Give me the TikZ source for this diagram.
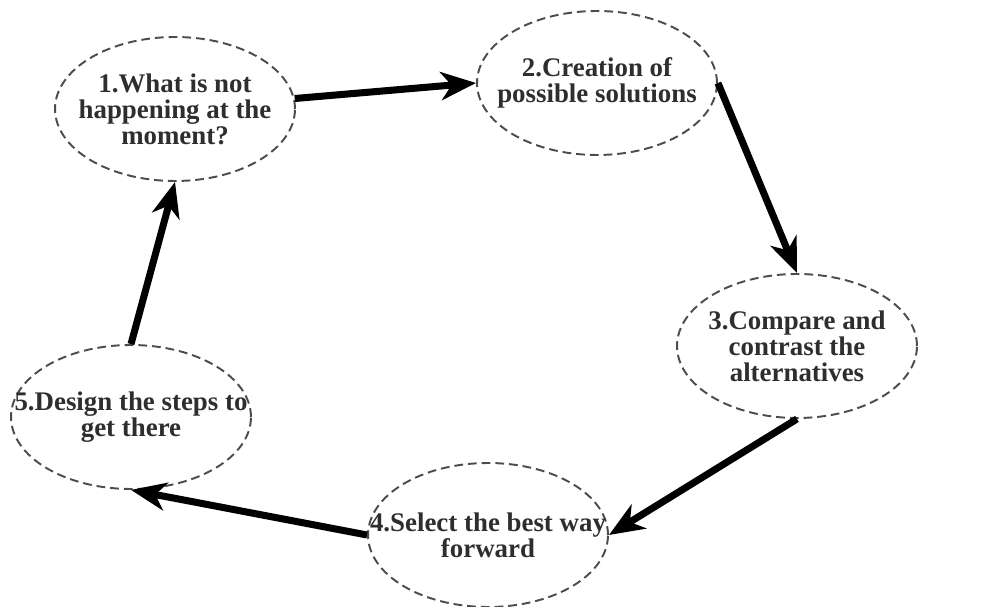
\documentclass[tikz,border=0pt]{standalone}
\usepackage{fontspec}
\setmainfont{Liberation Serif}
\usetikzlibrary{arrows.meta,shapes.geometric}

\begin{document}
\begin{tikzpicture}[x=0.02cm,y=-0.02cm,
  stage/.style={ellipse,draw=black!70,line width=1.1pt,
                dash pattern=on 5pt off 2.8pt,
                minimum width=4.8cm,minimum height=2.88cm,inner sep=0pt},
  txt/.style={font=\fontsize{15.3}{14.8}\selectfont\bfseries,
              text=black!82,align=center,inner sep=0pt},
  flow/.style={-{Stealth[length=20pt,width=16pt,inset=6pt]},
               line width=4pt}]

  \useasboundingbox (0,0) rectangle (985,607);

  % stages
  \node[stage] (S1) at (175,109) {};
  \node[stage] (S2) at (597,83)  {};
  \node[stage] (S3) at (797,346) {};
  \node[stage] (S4) at (488,535) {};
  \node[stage] (S5) at (131,417) {};

  \node[txt] (T1) at (S1) {1.What is not\\happening at the\\moment?};
  \node[txt] (T2) at (S2) {2.Creation of\\possible solutions};
  \node[txt] (T3) at (S3) {3.Compare and\\contrast the\\alternatives};
  \node[txt] (T4) at (S4) {4.Select the best way\\forward};
  \node[txt] (T5) at (S5) {5.Design the steps to\\get there};

  % cycle
  \draw[flow] (S1.5)     -- (S2.west);
  \draw[flow] (S2.east)  -- (S3.north);
  \draw[flow] (S3.south) -- (S4.east);
  \draw[flow] (S4.west)  -- (S5.south);
  \draw[flow] (S5.north) -- (S1.south);
\end{tikzpicture}
\end{document}
